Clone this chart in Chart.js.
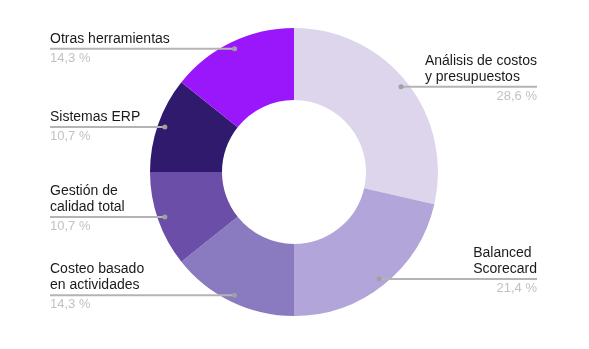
<!DOCTYPE html>
<html>
<head>
<meta charset="utf-8">
<script src="https://cdn.jsdelivr.net/npm/chart.js@4/dist/chart.umd.min.js"></script>
<style>
html,body{margin:0;padding:0;background:#fff;}
#wrap{width:589px;height:349px;position:relative;}
</style>
</head>
<body>
<div id="wrap"><canvas id="c"></canvas></div>
<script>
const categories = [
  ['Análisis de costos', 'y presupuestos'],
  ['Balanced', 'Scorecard'],
  ['Costeo basado', 'en actividades'],
  ['Gestión de', 'calidad total'],
  ['Sistemas ERP'],
  ['Otras herramientas']
];
const shares = [28.6, 21.4, 14.3, 10.7, 10.7, 14.3];
const sliceColors = ['#dcd5eb', '#b2a5d9', '#8a7abf', '#6a4ea8', '#301a6e', '#9b17fb'];

const fmt = v => v.toFixed(1).replace('.', ',') + ' %';

const leaderPlugin = {
  id: 'leaders',
  afterDatasetsDraw(chart) {
    const ctx = chart.ctx;
    const meta = chart.getDatasetMeta(0);
    const leftX = 50, rightX = 537;
    ctx.save();
    meta.data.forEach((arc, i) => {
      const mid = (arc.startAngle + arc.endAngle) / 2;
      const r = arc.outerRadius * 0.95;
      const dx = arc.x + Math.cos(mid) * r;
      const dy = arc.y + Math.sin(mid) * r;
      const right = Math.cos(mid) > 0;
      // line
      ctx.strokeStyle = '#b4b4b4';
      ctx.lineWidth = 2;
      ctx.beginPath();
      ctx.moveTo(dx, dy);
      ctx.lineTo(right ? rightX : leftX, dy);
      ctx.stroke();
      // dot
      ctx.fillStyle = '#a0a0a0';
      ctx.beginPath();
      ctx.arc(dx, dy, 2.5, 0, Math.PI * 2);
      ctx.fill();
      // label text
      const lines = categories[i];
      ctx.font = '14px "Liberation Sans", Arial, sans-serif';
      ctx.fillStyle = '#1a1a1a';
      ctx.textBaseline = 'alphabetic';
      ctx.textAlign = 'left';
      let tx = leftX;
      if (right) {
        const w = Math.max(...lines.map(l => ctx.measureText(l).width));
        tx = rightX - w;
      }
      lines.forEach((l, k) => {
        const y = dy - 6 - (lines.length - 1 - k) * 16;
        ctx.fillText(l, tx, y);
      });
      // percent
      ctx.font = '13px "Liberation Sans", Arial, sans-serif';
      ctx.fillStyle = '#c2c2c2';
      ctx.textAlign = right ? 'right' : 'left';
      ctx.fillText(fmt(shares[i]), right ? rightX : leftX, dy + 13);
    });
    ctx.restore();
  }
};

new Chart(document.getElementById('c'), {
  type: 'doughnut',
  data: {
    labels: categories.map(c => c.join(' ')),
    datasets: [{
      data: shares,
      backgroundColor: sliceColors,
      borderWidth: 0
    }]
  },
  options: {
    responsive: true,
    maintainAspectRatio: false,
    animation: false,
    cutout: '50%',
    layout: { padding: { top: 28, bottom: 33, left: 0, right: 1 } },
    plugins: { legend: { display: false }, tooltip: { enabled: false } }
  },
  plugins: [leaderPlugin]
});
</script>
</body>
</html>
